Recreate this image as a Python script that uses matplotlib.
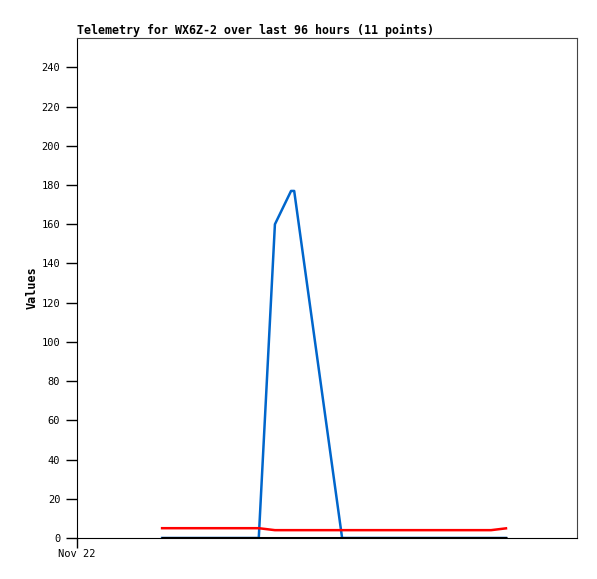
import matplotlib.pyplot as plt

# time in hours since Nov 22 00:00
hours = [16.1, 34.9, 38.0, 41.1, 41.7, 50.9, 60.1, 69.7, 75.5, 79.5, 82.6]
blue = [0, 0, 160, 177, 177, 0, 0, 0, 0, 0, 0]
red = [5, 5, 4, 4, 4, 4, 4, 4, 4, 4, 5]
black = [0, 0, 0, 0, 0, 0, 0, 0, 0, 0, 0]
yticks = list(range(0, 241, 20))

plt.rcParams['font.family'] = 'DejaVu Sans Mono'

fig = plt.figure(figsize=(5.97, 5.79), dpi=100)
ax = fig.add_axes([77 / 597, 41 / 579, 500 / 597, 500 / 579])

ax.plot(hours, blue, color='#0066cc', lw=1.8, solid_capstyle='butt')
ax.plot(hours, red, color='#ff0000', lw=1.8, solid_capstyle='butt')
ax.plot(hours, black, color='black', lw=2.2, solid_capstyle='butt')

ax.set_xlim(0, 96)
ax.set_ylim(0, 255)
ax.set_yticks(yticks)
ax.set_xticks([0])
ax.set_xticklabels(['Nov 22'])
ax.tick_params(axis='y', length=8, width=1, labelsize=7.5, pad=4)
ax.tick_params(axis='x', length=7, width=1, labelsize=7.5, pad=1)

for s in ['top', 'right']:
    ax.spines[s].set_color('#444444')
ax.spines['left'].set_color('black')
ax.spines['bottom'].set_color('black')

ax.set_ylabel('Values', fontsize=8.5, fontweight='bold')
ax.yaxis.set_label_coords(-0.077, 0.5)
ax.set_title('Telemetry for WX6Z-2 over last 96 hours (11 points)',
             fontsize=8.4, fontweight='bold', loc='left', pad=3)

plt.savefig('out.png', dpi=100)
